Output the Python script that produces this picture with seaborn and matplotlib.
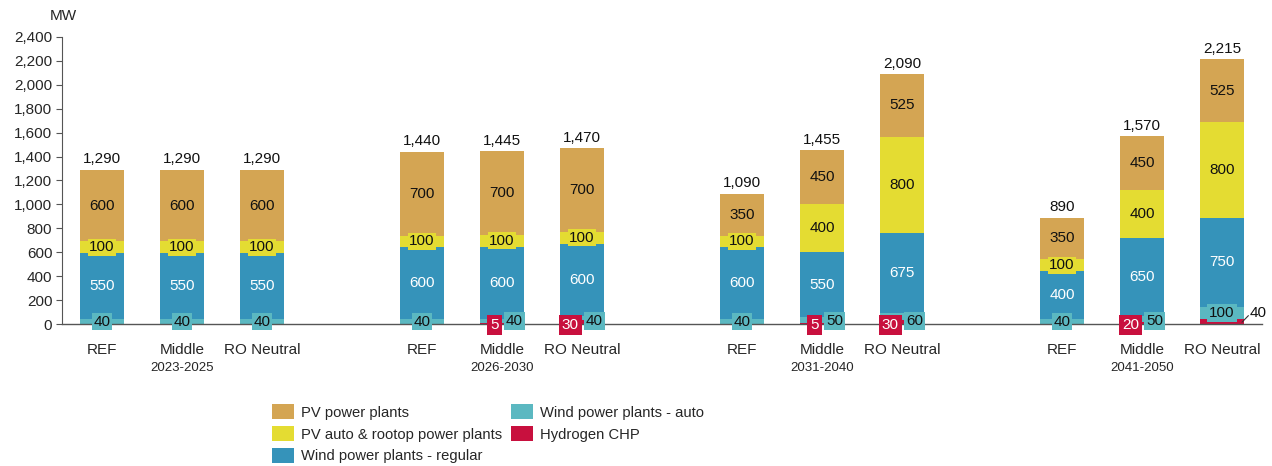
import numpy as np
import pandas as pd
import matplotlib.pyplot as plt
import matplotlib.transforms as mtransforms
from matplotlib.patches import Patch
import seaborn as sns

periods = ["2023-2025", "2026-2030", "2031-2040", "2041-2050"]
scenarios = ["REF", "Middle", "RO Neutral"]

# MW per bar: REF, Middle, RO Neutral for each period
hydrogen_chp = [0, 0, 0, 0, 5, 30, 0, 5, 30, 0, 20, 40]
wind_auto = [40, 40, 40, 40, 40, 40, 40, 50, 60, 40, 50, 100]
wind_regular = [550, 550, 550, 600, 600, 600, 600, 550, 675, 400, 650, 750]
pv_rooftop = [100, 100, 100, 100, 100, 100, 100, 400, 800, 100, 400, 800]
pv_plants = [600, 600, 600, 700, 700, 700, 350, 450, 525, 350, 450, 525]

series_names = ["Hydrogen CHP", "Wind power plants - auto", "Wind power plants - regular",
                "PV auto & rootop power plants", "PV power plants"]
colors = ["#C8103E", "#5BB8C1", "#3593BA", "#E4DC32", "#D4A553"]

sns.set_style("ticks")
plt.rcParams['font.family'] = ['Liberation Sans', 'DejaVu Sans']

pos = [g * 4 + s for g in range(len(periods)) for s in range(len(scenarios))]
df = pd.DataFrame({"pos": pos, series_names[0]: hydrogen_chp, series_names[1]: wind_auto,
                   series_names[2]: wind_regular, series_names[3]: pv_rooftop,
                   series_names[4]: pv_plants})
cum = df[series_names].cumsum(axis=1)
bottoms = cum - df[series_names]

fig = plt.figure(figsize=(12.72, 4.66), dpi=100)
ax = fig.add_axes([62 / 1272, 1 - 324 / 466, 1200 / 1272, 287 / 466])

# stacked look: draw cumulative totals from the top layer down
for name, col in reversed(list(zip(series_names, colors))):
    sns.barplot(x=df["pos"], y=cum[name], native_scale=True, color=col, saturation=1,
                width=0.55, errorbar=None, linewidth=0, ax=ax)

fs = 11
for i, p in enumerate(pos):
    # PV power plants
    v = pv_plants[i]
    ax.text(p, bottoms.loc[i, series_names[4]] + v / 2, str(v), ha="center", va="center",
            fontsize=fs, color="#111111")
    # PV rooftop
    v = pv_rooftop[i]
    ax.text(p, bottoms.loc[i, series_names[3]] + v / 2, str(v), ha="center", va="center",
            fontsize=fs, color="#111111",
            bbox=dict(boxstyle="square,pad=0.1", fc=colors[3], ec="none"))
    # wind regular
    v = wind_regular[i]
    ax.text(p, bottoms.loc[i, series_names[2]] + v / 2, str(v), ha="center", va="center",
            fontsize=fs, color="white")
    # wind auto + hydrogen
    h = hydrogen_chp[i]
    w = wind_auto[i]
    wbox = dict(boxstyle="square,pad=0.12", fc=colors[1], ec="none")
    if h == 0:
        ax.text(p, w / 2, str(w), ha="center", va="center", fontsize=fs, color="#111111", bbox=wbox)
    elif h < 35:
        ax.text(p - 0.04, -8, str(h), ha="right", va="center", fontsize=fs, color="white",
                bbox=dict(boxstyle="square,pad=0.2", fc=colors[0], ec="none"))
        ax.text(p + 0.05, 25, str(w), ha="left", va="center", fontsize=fs, color="#111111", bbox=wbox)
    else:
        ax.text(p, h + w / 2, str(w), ha="center", va="center", fontsize=fs, color="#111111", bbox=wbox)
        ax.plot([p + 0.25, p + 0.33], [15, 70], color="#333333", lw=0.8)
        ax.text(p + 0.35, 90, str(h), ha="left", va="center", fontsize=fs, color="#111111")
    total = cum.loc[i, series_names[4]]
    ax.text(p, total + 28, f"{total:,}", ha="center", va="bottom", fontsize=fs, color="#111111")

ax.set_xlim(-0.5, 14.5)
ax.set_ylim(0, 2400)
ax.set_yticks(range(0, 2401, 200))
ax.set_yticklabels([f"{t:,}" for t in range(0, 2401, 200)], fontsize=fs)
ax.set_xticks(pos)
ax.set_xticklabels(scenarios * len(periods), fontsize=fs)
ax.tick_params(axis="x", length=0, pad=14)
ax.tick_params(axis="y", length=4, width=0.8, color="#555555", pad=3)
ax.set_xlabel("")
ax.set_ylabel("")
sns.despine(ax=ax)
ax.spines["left"].set_color("#555555")
ax.spines["bottom"].set_color("#555555")
ax.spines["bottom"].set_linewidth(1.0)

trans = mtransforms.blended_transform_factory(ax.transData, ax.transAxes)
for g, per in enumerate(periods):
    ax.text(g * 4 + 1, -0.153, per, transform=trans, ha="center", va="center", fontsize=9.5)

fig.text(63 / 1272, 1 - 16 / 466, "MW", ha="center", va="center", fontsize=fs)

order = [4, 3, 2, 1, 0]
handles = [Patch(facecolor=colors[k], edgecolor="none", label=series_names[k]) for k in order]
fig.legend(handles=handles, loc="upper left", bbox_to_anchor=(262 / 1272, 1 - 394 / 466),
           ncol=2, frameon=False, fontsize=10.6, handlelength=1.5, handleheight=1.15,
           handletextpad=0.45, columnspacing=0.6, labelspacing=0.45, borderpad=0.2)

fig.savefig("out.png", dpi=100)
